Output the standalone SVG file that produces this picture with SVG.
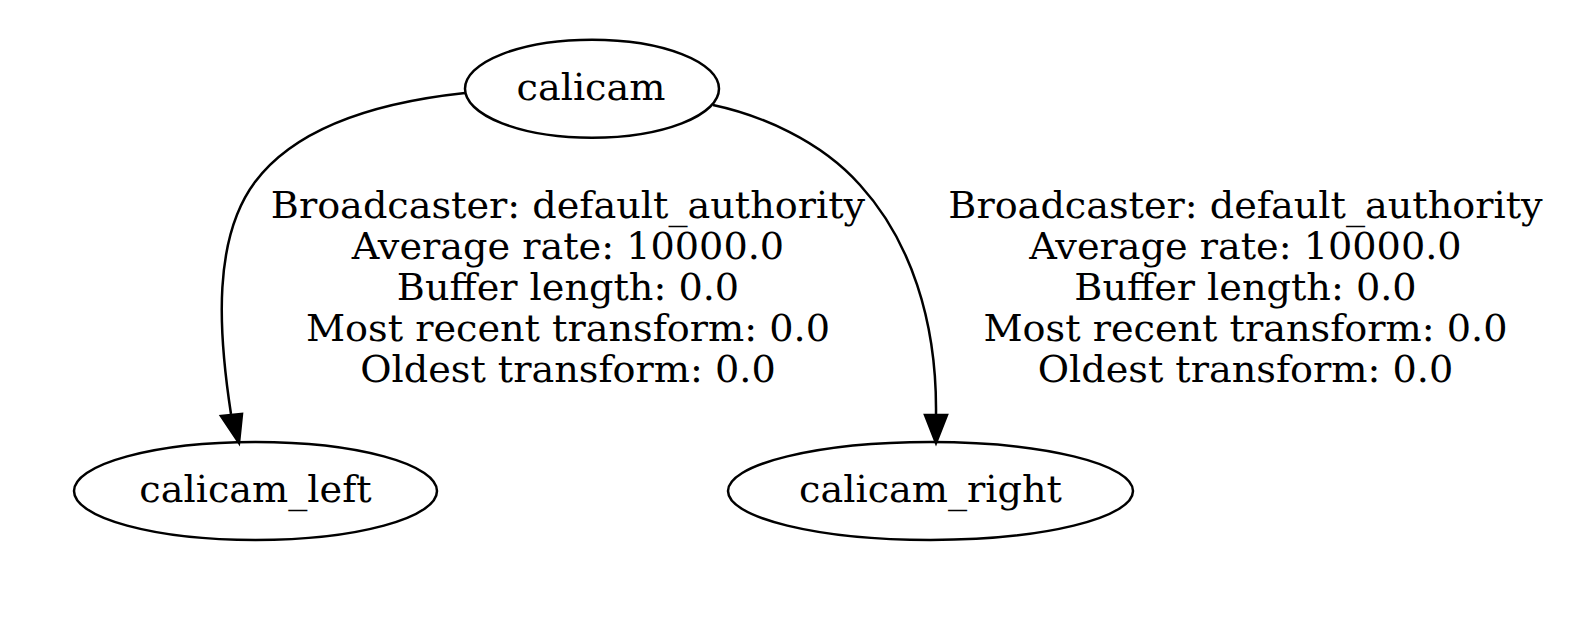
<svg xmlns="http://www.w3.org/2000/svg" width="1579" height="624" viewBox="0 0 1579 624">
<defs>
<style>
text{font-family:"DejaVu Serif","Liberation Serif",serif;font-size:38.2px;fill:#000;text-anchor:middle}
.node ellipse{fill:none;stroke:#000;stroke-width:2.5}
.edge path{fill:none;stroke:#000;stroke-width:2.5}
.edge polygon{fill:#000;stroke:#000;stroke-width:2.5}
</style>
</defs>
<rect width="1579" height="624" fill="#fff"/>
<g id="calicam" class="node">
<ellipse cx="592" cy="88.7" rx="127" ry="49"/>
<text x="591" y="100">calicam</text>
</g>
<g id="calicam_left" class="node">
<ellipse cx="255.5" cy="491" rx="181.5" ry="49"/>
<text x="255.5" y="501.7">calicam_left</text>
</g>
<g id="calicam_right" class="node">
<ellipse cx="930.5" cy="491" rx="202.5" ry="49"/>
<text x="930.5" y="501.7">calicam_right</text>
</g>
<g id="connectors" class="edge">
<path d="M465,93 C390,101 300,122 255,182 C213,238 218,330 231,414"/>
<polygon points="221,416 242,414 239,443"/>
<text x="568" y="218.3">Broadcaster: default_authority</text>
<text x="568" y="259.2">Average rate: 10000.0</text>
<text x="568" y="300.1">Buffer length: 0.0</text>
<text x="568" y="341">Most recent transform: 0.0</text>
<text x="568" y="381.9">Oldest transform: 0.0</text>
<path d="M713,105 C760,115 820,140 860,185 C910,240 937,320 936,414"/>
<polygon points="925,415 947,415 936,443"/>
<text x="1245.5" y="218.3">Broadcaster: default_authority</text>
<text x="1245.5" y="259.2">Average rate: 10000.0</text>
<text x="1245.5" y="300.1">Buffer length: 0.0</text>
<text x="1245.5" y="341">Most recent transform: 0.0</text>
<text x="1245.5" y="381.9">Oldest transform: 0.0</text>
</g>
</svg>
